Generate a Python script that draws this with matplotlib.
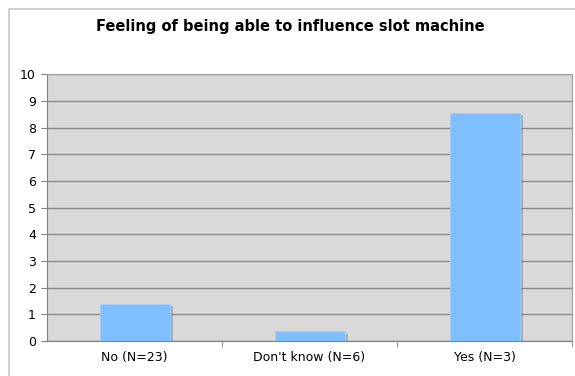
import matplotlib
matplotlib.use('Agg')
import matplotlib.pyplot as plt
import matplotlib.patheffects as pe
from matplotlib.patches import Rectangle

# mean rating per answer group
groups = ['No (N=23)', "Don't know (N=6)", 'Yes (N=3)']
values = [1.4, 0.38, 8.56]
yticks = list(range(0, 11))

fig = plt.figure(figsize=(5.75, 3.76), dpi=100)
fig.patch.set_facecolor('white')

# light frame round the whole chart
fig.patches.append(Rectangle((8.5 / 575, -0.1), 1.2, 1 - 9 / 376 + 0.1,
                             transform=fig.transFigure, fill=False,
                             edgecolor='#c8c8c8', linewidth=1.2))

ax = fig.add_axes([47 / 575, 35 / 376, 525 / 575, 266.7 / 376])
ax.set_facecolor('#d9d9d9')

x = range(len(groups))
bars = ax.bar(x, values, width=0.4, color='#80bfff', edgecolor='#9fcfff',
              linewidth=0.6, zorder=3)
for b in bars:
    b.set_path_effects([pe.SimplePatchShadow(offset=(2.2, -2), shadow_rgbFace='#808080',
                                             alpha=0.5), pe.Normal()])

ax.set_xlim(-0.5, 2.5)
ax.set_ylim(0, 10)
ax.set_yticks(yticks)
ax.set_xticks(list(x))
ax.set_xticklabels(groups)
ax.set_xticks([0.5, 1.5, 2.5], minor=True)
ax.tick_params(axis='x', which='major', length=0, pad=7, labelsize=9)
ax.tick_params(axis='x', which='minor', length=4, color='#808080')
ax.tick_params(axis='y', length=4, color='#808080', pad=4, labelsize=9)

ax.grid(axis='y', color='#8a8a8a', linewidth=1, zorder=1)
ax.set_axisbelow(True)
for s in ['top', 'right']:
    ax.spines[s].set_color('#a0a0a0')
for s in ['left', 'bottom']:
    ax.spines[s].set_color('#808080')

fig.text(0.505, 1 - 27 / 376, 'Feeling of being able to influence slot machine',
         ha='center', va='center', fontsize=10.5, fontweight='bold')

fig.savefig('out.png', dpi=100)
